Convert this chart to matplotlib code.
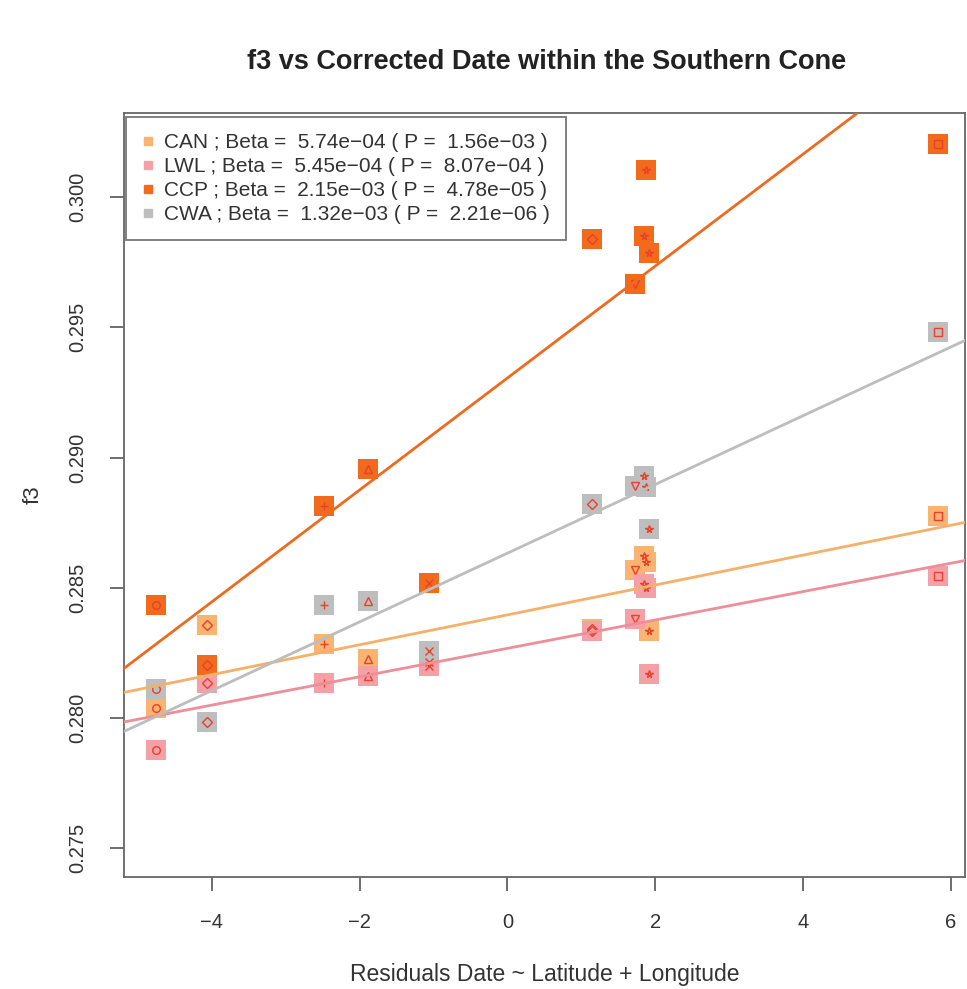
import matplotlib
matplotlib.use('Agg')
import matplotlib.pyplot as plt
from matplotlib.lines import Line2D
import numpy as np

plt.rcParams['font.family'] = ['Liberation Sans', 'DejaVu Sans']

# residual date of each population (x) and f3 per reference group (y)
residual_date = [-4.75, -4.07, -2.48, -1.89, -1.06, 1.14, 1.72, 1.85, 1.88, 1.92, 5.83]
pop_symbols = ['o', 'D', '+', '^', 'x', 'D', 'v', '*', '*', '*', 's']

groups = ['CAN', 'LWL', 'CCP', 'CWA']
f3_values = {
    'CAN': [0.28040, 0.28358, 0.28283, 0.28225, 0.28215, 0.28340, 0.28570, 0.28620, 0.28600, 0.28332, 0.28776],
    'LWL': [0.27878, 0.28133, 0.28133, 0.28160, 0.28200, 0.28332, 0.28381, 0.28515, 0.28500, 0.28167, 0.28546],
    'CCP': [0.28435, 0.28203, 0.28814, 0.28956, 0.28519, 0.29841, 0.29666, 0.29852, 0.30103, 0.29785, 0.30206],
    'CWA': [0.28113, 0.27986, 0.28434, 0.28449, 0.28256, 0.28821, 0.28892, 0.28930, 0.28885, 0.28724, 0.29483],
}
betas = {'CAN': 5.74e-04, 'LWL': 5.45e-04, 'CCP': 2.15e-03, 'CWA': 1.32e-03}
pvals = {'CAN': '1.56e-03', 'LWL': '8.07e-04', 'CCP': '4.78e-05', 'CWA': '2.21e-06'}

box_colors = {'CAN': '#F8B470', 'LWL': '#F3A0A6', 'CCP': '#F26A1B', 'CWA': '#BEBEBE'}
line_colors = {'CAN': '#F5B06A', 'LWL': '#EE8E98', 'CCP': '#EE6A1E', 'CWA': '#BDBDBD'}
symbol_color = '#E8412C'
text_color = '#333333'

fig = plt.figure(figsize=(9.67, 9.89), dpi=100)
ax = fig.add_axes([0.128, 0.1132, 0.870, 0.7725])

# points: big filled square per group with the population symbol on top
for g in groups:
    for x, y, m in zip(residual_date, f3_values[g], pop_symbols):
        ax.plot(x, y, marker='s', markersize=15, color=box_colors[g],
                markeredgewidth=0, linestyle='none', zorder=2)
        ax.plot(x, y, marker=m, markersize=5.5, markerfacecolor='none',
                markeredgecolor=symbol_color, markeredgewidth=1,
                linestyle='none', zorder=3)

# regression lines through the group means with the reported slope
x_arr = np.array(residual_date)
for g in groups:
    y_arr = np.array(f3_values[g])
    b = betas[g]
    a = y_arr.mean() - b * x_arr.mean()
    ax.axline((0, a), slope=b, color=line_colors[g], lw=2, zorder=4)

ax.set_xlim(-5.19, 6.19)
ax.set_ylim(0.27389, 0.30323)

ax.set_xticks([-4, -2, 0, 2, 4, 6])
ax.set_xticklabels(['\u22124', '\u22122', '0', '2', '4', '6'])
ax.set_yticks([0.275, 0.280, 0.285, 0.290, 0.295, 0.300])
ax.set_yticklabels(['0.275', '0.280', '0.285', '0.290', '0.295', '0.300'],
                   rotation=90, va='center')
ax.tick_params(axis='both', direction='out', length=10, width=1.2,
               colors='#555555', labelcolor=text_color, labelsize=14.5)
ax.tick_params(axis='x', pad=16)
ax.tick_params(axis='y', pad=16)
for s in ax.spines.values():
    s.set_color('#666666')
    s.set_linewidth(1.3)

ax.set_xlabel('Residuals Date ~ Latitude + Longitude', fontsize=16.5,
              color=text_color, labelpad=22)
ax.set_ylabel('f3', fontsize=16, color=text_color, labelpad=18)
fig.text(0.565, 0.937, 'f3 vs Corrected Date within the Southern Cone',
         ha='center', va='center', fontsize=19.5, fontweight='bold', color='#222222')

handles = [Line2D([], [], marker='s', markersize=6, linestyle='none',
                  color=box_colors[g]) for g in groups]
labels = [f'{g} ; Beta =  {betas[g]:.2e} ( P =  {pvals[g]} )'.replace('-', '\u2212')
          for g in groups]
leg = ax.legend(handles, labels, loc='upper left', bbox_to_anchor=(0.0, 0.997),
                fontsize=15, frameon=True, fancybox=False, handlelength=0.6,
                handletextpad=0.5, borderpad=0.75, labelspacing=0.24,
                borderaxespad=0.1, labelcolor=text_color)
leg.get_frame().set_edgecolor('#555555')
leg.get_frame().set_linewidth(1.3)

fig.savefig('out.png', dpi=100)
